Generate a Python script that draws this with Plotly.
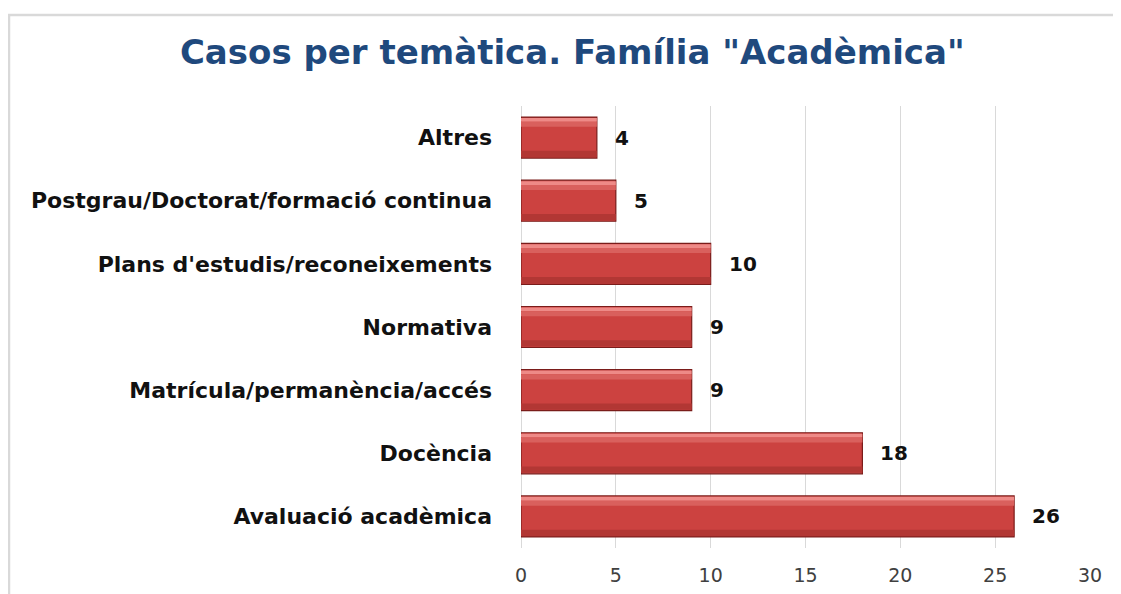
import plotly.graph_objects as go

# dades
categories = ["Altres", "Postgrau/Doctorat/formació continua", "Plans d'estudis/reconeixements",
              "Normativa", "Matrícula/permanència/accés", "Docència", "Avaluació acadèmica"]
values = [4, 5, 10, 9, 9, 18, 26]
x_ticks = [0, 5, 10, 15, 20, 25, 30]

# la pàgina té 8px de marge al body
W, H = 1113, 586
M = dict(l=513, r=31, t=98, b=46)
FONT = "DejaVu Sans"


def px_x(p):
    return (p - M['l']) / (W - M['l'] - M['r'])


def px_y(p):
    return (H - M['b'] - p) / (H - M['t'] - M['b'])


fig = go.Figure()

# cos de la barra
fig.add_trace(go.Bar(
    y=categories, x=values, orientation='h', width=0.65,
    marker=dict(color="#cc4240", line=dict(color="#7a1c1a", width=1.2)),
    hoverinfo='x+y'
))
# reflex superior
fig.add_trace(go.Bar(
    y=categories, x=values, orientation='h', width=0.06, offset=-0.31,
    marker=dict(color="#ee8a87", line=dict(width=0)), hoverinfo='skip'
))
fig.add_trace(go.Bar(
    y=categories, x=values, orientation='h', width=0.08, offset=-0.25,
    marker=dict(color="#d9605d", line=dict(width=0)), hoverinfo='skip'
))
# ombra inferior
fig.add_trace(go.Bar(
    y=categories, x=values, orientation='h', width=0.1, offset=0.21,
    marker=dict(color="#b23734", line=dict(width=0)), hoverinfo='skip'
))

for c, v in zip(categories, values):
    fig.add_annotation(x=v, y=c, text=str(v), showarrow=False, xanchor='left', xshift=16,
                       font=dict(family=FONT, size=20, color="#111111", weight="bold"))

fig.update_layout(
    width=W, height=H, margin=M,
    barmode='overlay', showlegend=False,
    paper_bgcolor='white', plot_bgcolor='white',
    title=dict(text='Casos per temàtica. Família "Acadèmica"', x=0.507, xanchor='center',
               y=1 - 44 / H, yanchor='middle',
               font=dict(family=FONT, size=34, color="#1f497d", weight="bold")),
    xaxis=dict(range=[0, 30], tickvals=x_ticks, showgrid=True, gridcolor="#d9d9d9", gridwidth=1,
               zeroline=True, zerolinecolor="#d9d9d9", zerolinewidth=1,
               ticks='outside', ticklen=10, tickcolor='rgba(0,0,0,0)', automargin=False,
               tickfont=dict(family=FONT, size=19, color="#404040"), fixedrange=True),
    yaxis=dict(categoryorder='array', categoryarray=categories, autorange='reversed',
               showgrid=False, ticks='', ticklabelstandoff=28, automargin=False,
               tickfont=dict(family=FONT, size=22, color="#111111", weight="bold")),
    shapes=[
        dict(type='rect', xref='paper', yref='paper', x0=px_x(1), x1=px_x(W + 10),
             y0=px_y(H + 10), y1=px_y(7), line=dict(color="#d9d9d9", width=2.5),
             fillcolor='rgba(0,0,0,0)', layer='below'),
    ],
)

fig.write_html("out.html")
